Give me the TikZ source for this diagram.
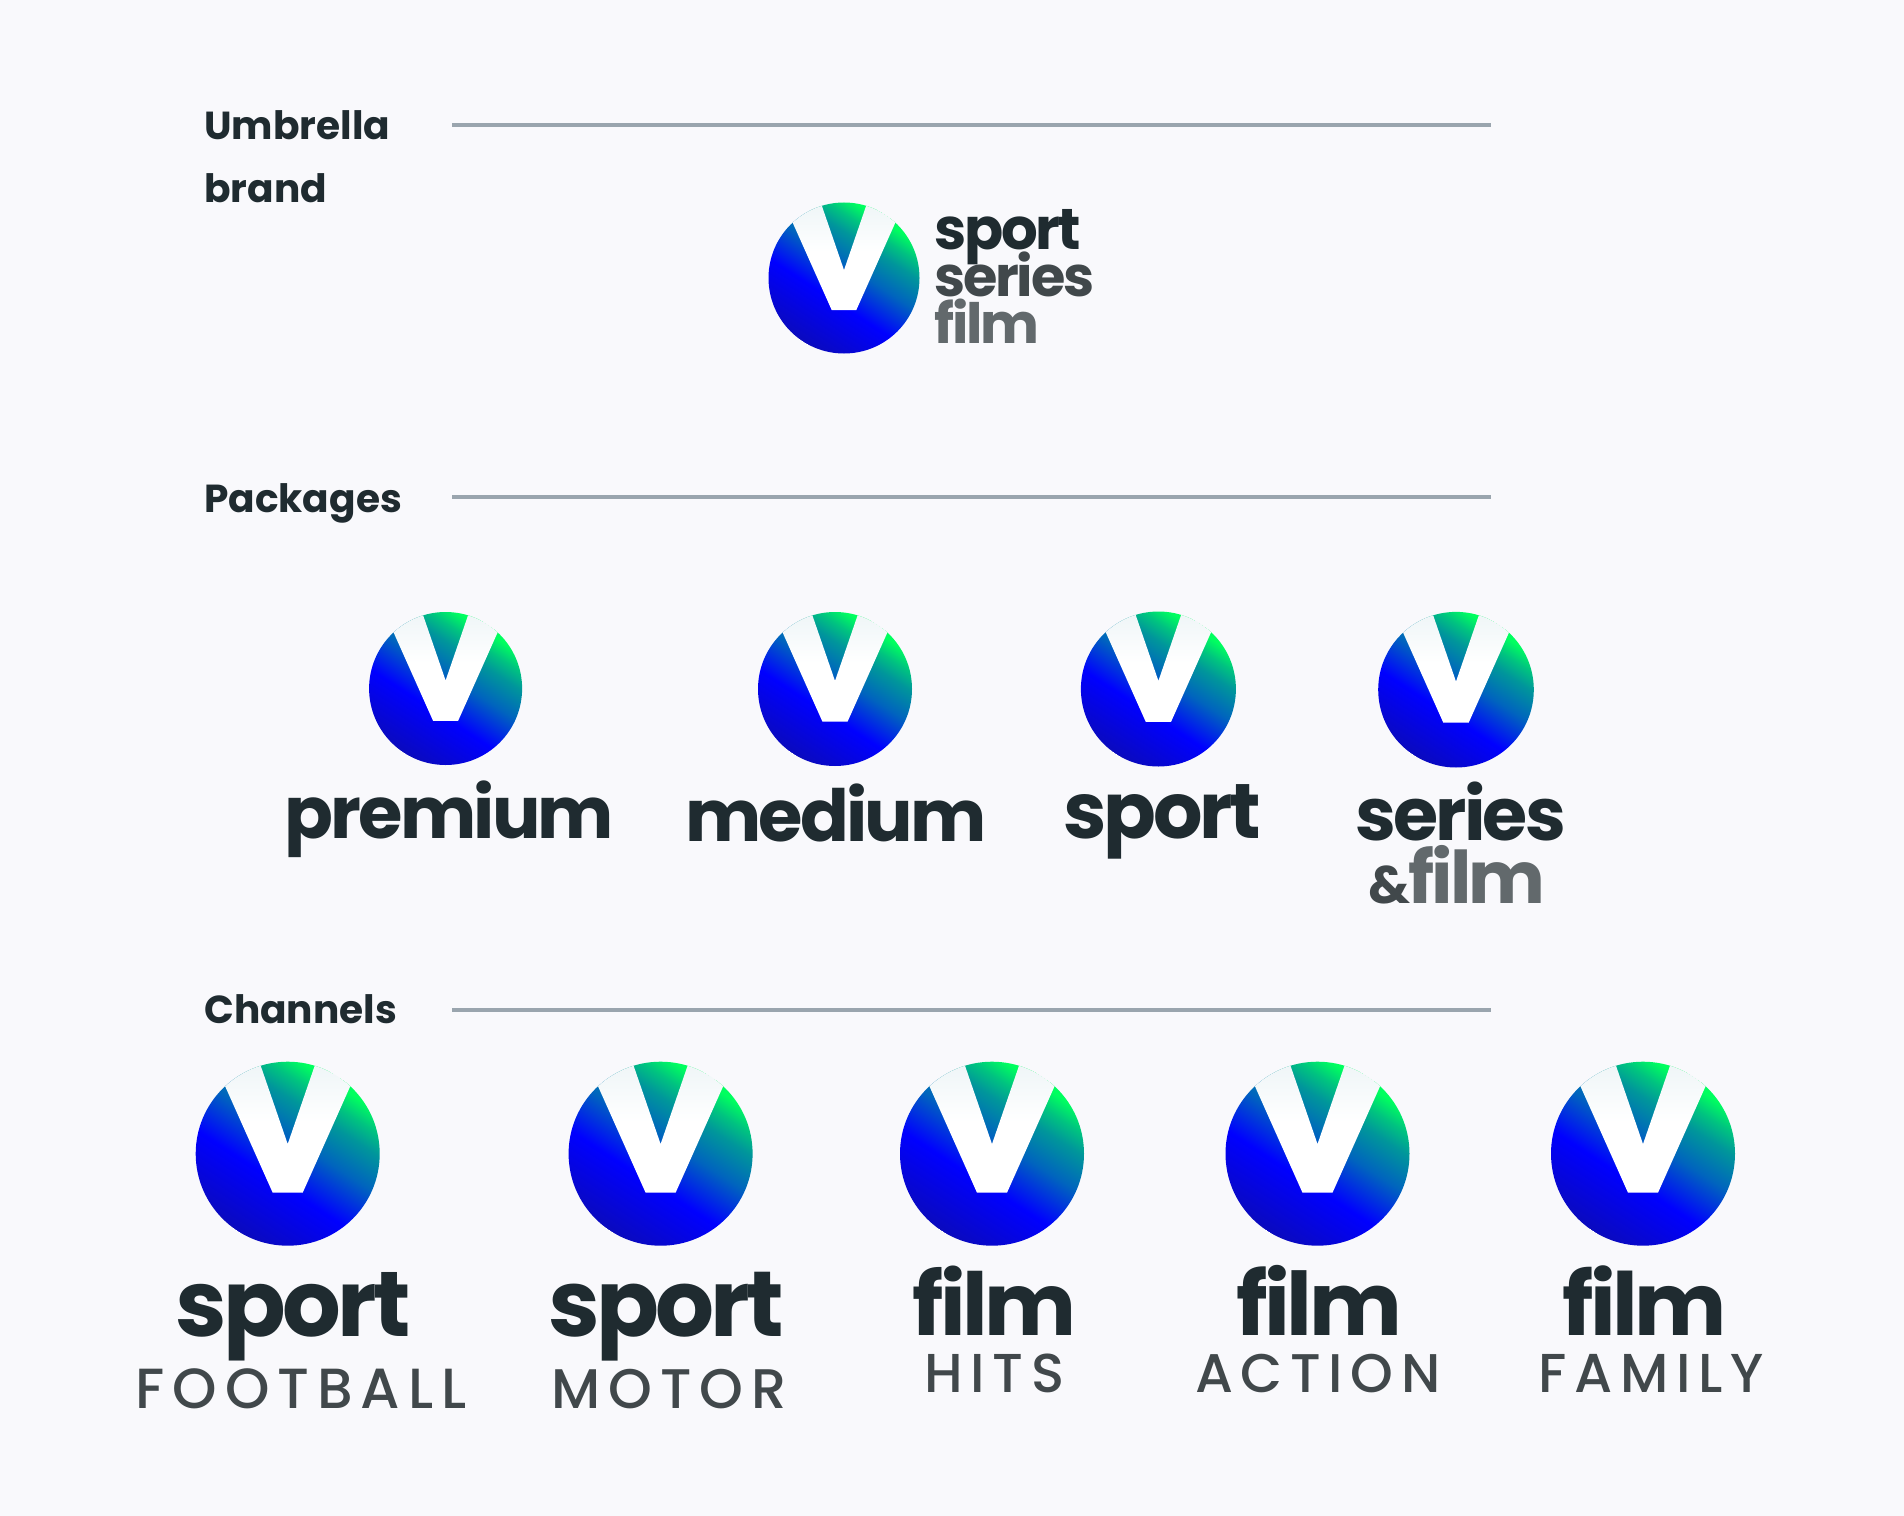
\documentclass[tikz,border=0pt]{standalone}
\usepackage{fontspec}
\usepackage{graphicx}
\newfontfamily\popb[LetterSpace=-4]{Poppins}
\newfontfamily\popl{Poppins}
\newfontfamily\popw[LetterSpace=14]{Poppins Medium}
\definecolor{bgc}{HTML}{F9F9FC}
\definecolor{rulec}{HTML}{9AA5AE}
\definecolor{inkA}{HTML}{1F2B30}
\definecolor{inkB}{HTML}{41484B}
\definecolor{inkC}{HTML}{62696C}
\definecolor{gA}{RGB}{10,10,190}
\definecolor{gB}{RGB}{0,0,255}
\definecolor{gC}{RGB}{0,100,190}
\definecolor{gD}{RGB}{0,150,155}
\definecolor{gF}{RGB}{0,195,128}
\definecolor{gE}{RGB}{0,255,95}
\definecolor{vtop}{HTML}{EEF5F7}
\pgfdeclareverticalshading{vlogo}{100bp}{color(0bp)=(gA);color(34bp)=(gB);color(58bp)=(gC);color(76bp)=(gD);color(86bp)=(gF);color(96bp)=(gE);color(100bp)=(gE)}
\pgfdeclareverticalshading{vwhite}{100bp}{color(0bp)=(white);color(50bp)=(white);color(72bp)=(vtop);color(100bp)=(vtop)}
\newcommand{\vlogo}[3]{%
  \begin{scope}[shift={(#1,#2)},x=#3*0.75pt,y=#3*0.75pt]
    \clip (0,0) circle (1);
    \begin{scope}[rotate=-33,scale=#3*0.75/50.1875]
      \node[transform shape,inner sep=0pt,outer sep=0pt] {\pgfuseshading{vlogo}};
    \end{scope}
    \shade[shading=vwhite] (-.844,1.1) -- (-.163,-.424) -- (.163,-.424) -- (.844,1.1) -- (.343,1.1) -- (0,.105) -- (-.343,1.1) -- cycle;
  \end{scope}}
% #1 x, #2 baseline y, #3 width px, #4 colour, #5 font, #6 text
\newcommand{\wmark}[6]{\node[anchor=base west,inner sep=0pt,text=#4] at (#1,#2) {\resizebox{\dimexpr #3pt*3/4\relax}{!}{#5#6}};}
\tikzset{rulestyle/.style={rulec,line width=2.4pt},labelstyle/.style={anchor=base west,inner sep=0pt,text=inkA,font=\popl\bfseries\fontsize{29.3}{29.3}\selectfont}}
\begin{document}
\begin{tikzpicture}[x=0.75pt,y=-0.75pt]
\useasboundingbox (0,0) rectangle (1904,1516);
\fill[bgc] (0,0) rectangle (1904,1516);
% section rules
\coordinate (r1a) at (452,125); \coordinate (r1b) at (1491,125);
\coordinate (r2a) at (452,497); \coordinate (r2b) at (1491,497);
\coordinate (r3a) at (452,1010); \coordinate (r3b) at (1491,1010);
\draw[rulestyle] (r1a) -- (r1b);
\draw[rulestyle] (r2a) -- (r2b);
\draw[rulestyle] (r3a) -- (r3b);
% section labels
\node[labelstyle] (lumb) at (204,139.5) {Umbrella};
\node[labelstyle] (lbrand) at (204,202.5) {brand};
\node[labelstyle] (lpack) at (204,512.5) {Packages};
\node[labelstyle] (lchan) at (204,1023.5) {Channels};
% umbrella
\vlogo{844}{278}{75.5}
\wmark{934}{249}{147}{inkA}{\popb\bfseries}{sport}
\wmark{934}{296.7}{160}{inkB}{\popb\bfseries}{series}
\wmark{934}{344}{105}{inkC}{\popb\bfseries}{film}
% packages
\vlogo{445.6}{688.5}{76.5}
\vlogo{835}{689}{77}
\vlogo{1158.4}{689}{77.5}
\vlogo{1456}{689.7}{77.8}
\wmark{284.5}{838.5}{329}{inkA}{\popb\bfseries}{premium}
\wmark{685}{841.5}{301}{inkA}{\popb\bfseries}{medium}
\wmark{1063}{838.5}{198}{inkA}{\popb\bfseries}{sport}
\wmark{1355.5}{840.5}{210}{inkA}{\popb\bfseries}{series}
\wmark{1368}{903}{42}{inkB}{\popb\bfseries}{\&}
\wmark{1408}{903}{137}{inkC}{\popb\bfseries}{film}
% channels
\vlogo{287.7}{1153.7}{92}
\vlogo{660.6}{1153.7}{92}
\vlogo{992}{1153.7}{92}
\vlogo{1317.5}{1153.7}{92}
\vlogo{1643}{1153.7}{92}
\wmark{175}{1336}{235}{inkA}{\popb\bfseries}{sport}
\wmark{548}{1336}{236}{inkA}{\popb\bfseries}{sport}
\wmark{912}{1335}{164}{inkA}{\popb\bfseries}{film}
\wmark{1236}{1335}{165.5}{inkA}{\popb\bfseries}{film}
\wmark{1562}{1335}{164.5}{inkA}{\popb\bfseries}{film}
\wmark{135.5}{1408}{330.5}{inkB}{\popw}{FOOTBALL}
\wmark{551.5}{1408}{234.5}{inkB}{\popw}{MOTOR}
\wmark{924}{1392}{140}{inkB}{\popw}{HITS}
\wmark{1195}{1392}{245}{inkB}{\popw}{ACTION}
\wmark{1538}{1392}{225}{inkB}{\popw}{FAMILY}
\end{tikzpicture}
\end{document}
